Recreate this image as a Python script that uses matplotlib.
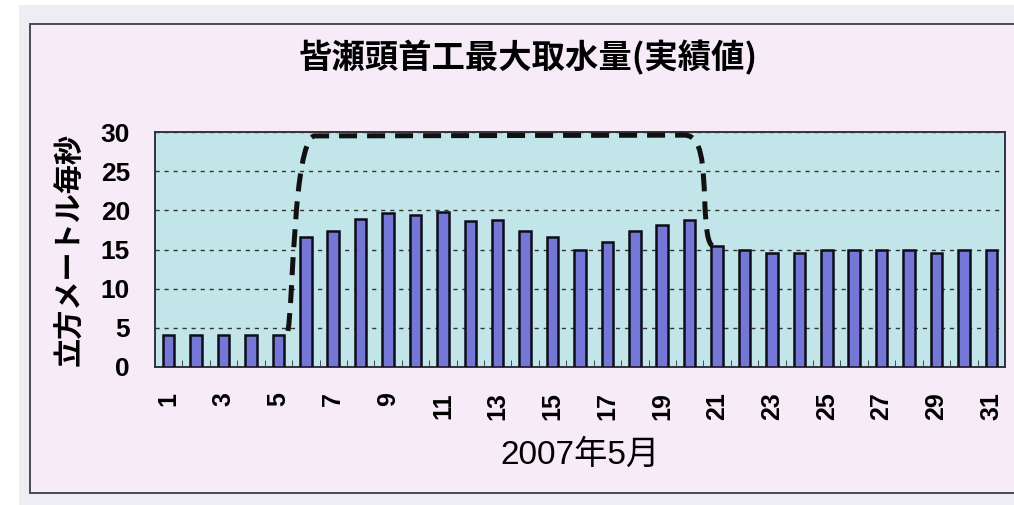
import matplotlib
matplotlib.use("Agg")
import matplotlib.pyplot as plt
from matplotlib.path import Path
from matplotlib.patches import PathPatch, Rectangle
import numpy as np

# daily intake, May 2007 (m3/s)
days = list(range(1, 32))
intake = [4.1, 4.1, 4.1, 4.1, 4.1, 16.6, 17.4, 18.9, 19.7, 19.4,
          19.8, 18.6, 18.8, 17.4, 16.6, 14.9, 16.0, 17.4, 18.1, 18.8,
          15.4, 14.9, 14.6, 14.5, 14.9, 14.9, 14.9, 14.9, 14.6, 14.9, 14.9]
tick_days = list(range(1, 32, 2))
y_ticks = [0, 5, 10, 15, 20, 25, 30]

# hand-drawn dashed envelope (bezier vertices, data units)
env_x = [5.35, 5.55, 5.55, 6.3, 19.8, 20.45, 20.5, 20.55, 20.6, 20.65, 20.85]
env_y = [4.6, 9.0, 28.5, 29.5, 29.6, 29.6, 26.0, 21.0, 17.5, 15.8, 15.4]
env_codes = [Path.MOVETO, Path.CURVE4, Path.CURVE4, Path.CURVE4, Path.LINETO,
             Path.CURVE4, Path.CURVE4, Path.CURVE4, Path.CURVE4, Path.CURVE4, Path.CURVE4]

TITLE = "皆瀬頭首工最大取水量(実績値)"
YLABEL = "立方メートル毎秒"
XLABEL = "2007年5月"

JP = ["Noto Sans CJK JP", "DejaVu Sans"]
LAT = ["Liberation Sans", "Noto Sans CJK JP"]

fig = plt.figure(figsize=(10.14, 5.05), dpi=100, facecolor="white")

# scanned paper + chart frame
fig.patches.append(Rectangle((19 / 1014, 0), 1, 1 - 5 / 505, transform=fig.transFigure,
                             facecolor="#efedf4", edgecolor="none", zorder=-3))
fig.patches.append(Rectangle((30 / 1014, 12 / 505), 1.0, (493 - 24) / 505,
                             transform=fig.transFigure, facecolor="#f6ebf6",
                             edgecolor="#4a4a50", linewidth=1.4, zorder=-2))

ax = fig.add_axes([155 / 1014, 1 - 367 / 505, 850 / 1014, 235 / 505])
ax.set_facecolor("#c1e5e8")

ax.bar(days, intake, width=0.42, color="#7477d6", edgecolor="#0d0d1a", linewidth=1.8, zorder=3)

env = Path(np.column_stack([env_x, env_y]), env_codes)
ax.add_patch(PathPatch(env, facecolor="none", edgecolor="#111111", linewidth=3.6,
                       linestyle=(0, (3.6, 2.0)), capstyle="butt", zorder=4))

ax.set_xlim(0.5, 31.5)
ax.set_ylim(0, 30)
ax.set_yticks(y_ticks)
ax.set_yticklabels([str(v) for v in y_ticks], fontsize=19, fontweight="bold", family=LAT)
ax.set_xticks(tick_days)
ax.set_xticklabels([str(d) for d in tick_days], rotation=90, fontsize=18,
                   fontweight="bold", family=LAT)
ax.set_xticks(np.arange(0.5, 32, 1), minor=True)
ax.tick_params(axis="x", which="major", length=0, pad=18)
ax.tick_params(axis="x", which="minor", length=5, direction="in", color="#333")
ax.tick_params(axis="y", length=0, pad=18)

ax.yaxis.grid(True, color="#333333", linewidth=1.0, linestyle=(0, (3, 3.5)), zorder=1)
ax.set_axisbelow(True)
for s in ax.spines.values():
    s.set_color("#333340")
    s.set_linewidth(1.4)

ax.set_ylabel(YLABEL, fontsize=21, fontweight="bold", family=JP, labelpad=12)
ax.set_xlabel(XLABEL, fontsize=24, family=LAT, labelpad=14)

fig.text(528 / 1014, 1 - 58 / 505, TITLE, fontsize=24, fontweight="bold",
         family=JP, ha="center", va="center")

fig.savefig("out.png", dpi=100, facecolor=fig.get_facecolor())
